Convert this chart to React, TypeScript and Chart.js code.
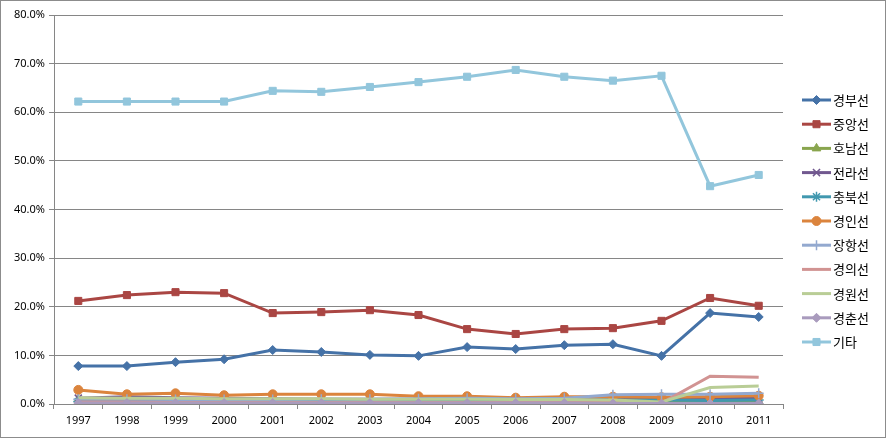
import React, { useEffect, useRef } from "react";
import { Chart, registerables } from "chart.js";
import { drawPoint } from "chart.js/helpers";

Chart.register(...registerables);

const years = ["1997","1998","1999","2000","2001","2002","2003","2004","2005","2006","2007","2008","2009","2010","2011"];
const seriesNames = ["경부선","중앙선","호남선","전라선","충북선","경인선","장항선","경의선","경원선","경춘선","기타"];

const gyeongbu = [7.8, 7.8, 8.6, 9.2, 11.1, 10.7, 10.1, 9.9, 11.7, 11.3, 12.1, 12.3, 9.9, 18.7, 17.9];
const jungang = [21.2, 22.4, 23.0, 22.8, 18.7, 18.9, 19.3, 18.3, 15.4, 14.4, 15.4, 15.6, 17.1, 21.8, 20.2];
const honam = [0.9, 0.8, 0.7, 0.7, 0.6, 0.6, 0.6, 0.6, 0.6, 0.5, 0.6, 0.7, 0.5, 0.6, 0.6];
const jeolla = [1.2, 1.5, 1.3, 1.2, 1.1, 1.0, 1.0, 1.0, 1.0, 0.9, 1.0, 1.1, 1.0, 1.1, 1.2];
const chungbuk = [0.5, 0.5, 0.5, 0.5, 0.5, 0.5, 0.5, 0.5, 0.5, 0.5, 0.6, 0.8, 0.8, 0.7, 0.8];
const gyeongin = [2.9, 2.0, 2.2, 1.8, 2.0, 2.0, 2.0, 1.6, 1.6, 1.3, 1.5, 1.5, 1.4, 1.5, 1.7];
const janghang = [1.0, 1.0, 0.9, 0.9, 0.9, 1.0, 1.0, 1.1, 1.2, 1.1, 1.2, 1.9, 2.0, 2.0, 2.2];
const gyeongui = [0.4, 0.4, 0.3, 0.3, 0.3, 0.3, 0.3, 0.3, 0.3, 0.3, 0.3, 0.3, 0.2, 5.7, 5.5];
const gyeongwon = [1.3, 1.2, 1.2, 1.1, 1.1, 1.1, 1.0, 1.0, 1.0, 0.9, 0.9, 0.8, 0.4, 3.4, 3.7];
const gyeongchun = [0.2, 0.2, 0.2, 0.2, 0.2, 0.2, 0.2, 0.2, 0.2, 0.2, 0.2, 0.1, 0.1, 0.1, 0.1];
const others = [62.2, 62.2, 62.2, 62.2, 64.4, 64.2, 65.2, 66.2, 67.3, 68.7, 67.3, 66.5, 67.5, 44.8, 47.1];

const allValues = [gyeongbu, jungang, honam, jeolla, chungbuk, gyeongin, janghang, gyeongui, gyeongwon, gyeongchun, others];
const yTicks = [0, 10, 20, 30, 40, 50, 60, 70, 80];

const colors = ["#4572A7","#AA4643","#89A54E","#71588F","#4198AF","#DB843D","#93A9CF","#D19392","#B9CD96","#A99BBD","#92C6DC"];
const styles = ["rectRot","rect","triangle","crossRot","star","circle","cross","line","line","rectRot","rect"];
const radii = [4.5, 5, 5, 5, 5, 4.5, 5, 0, 0, 4.5, 5];

const legendPlugin = {
  id: "excelLegend",
  afterDraw(chart: any) {
    const ctx = chart.ctx;
    ctx.save();
    const x0 = 802, x1 = 831, yStart = 100, step = 24.2;
    chart.data.datasets.forEach((ds: any, i: number) => {
      const y = yStart + i * step;
      ctx.strokeStyle = ds.borderColor;
      ctx.lineWidth = 3;
      ctx.beginPath();
      ctx.moveTo(x0, y);
      ctx.lineTo(x1, y);
      ctx.stroke();
      if (ds.pointRadius > 0) {
        ctx.fillStyle = ds.pointBackgroundColor;
        ctx.strokeStyle = ds.pointBorderColor;
        ctx.lineWidth = ds.pointBorderWidth;
        drawPoint(ctx, { pointStyle: ds.pointStyle, radius: ds.pointRadius, borderWidth: ds.pointBorderWidth, rotation: 0 }, (x0 + x1) / 2, y);
      }
      ctx.fillStyle = "#000";
      ctx.font = '13px "Noto Sans CJK KR"';
      ctx.textBaseline = "middle";
      ctx.textAlign = "left";
      ctx.fillText(ds.label, x1 + 2, y);
    });
    ctx.strokeStyle = "#8c8c8c";
    ctx.lineWidth = 1;
    ctx.strokeRect(0.5, 0.5, chart.width - 1, chart.height - 1);
    ctx.restore();
  },
};

export default function App() {
  const ref = useRef<HTMLCanvasElement>(null);
  useEffect(() => {
    const datasets = seriesNames.map((name, i) => ({
      label: name,
      data: allValues[i],
      borderColor: colors[i],
      backgroundColor: colors[i],
      pointBackgroundColor: colors[i],
      pointBorderColor: colors[i],
      pointBorderWidth: styles[i] === "crossRot" || styles[i] === "star" || styles[i] === "cross" ? 1.5 : 1,
      pointStyle: styles[i],
      pointRadius: radii[i],
      borderWidth: 3,
      tension: 0,
      fill: false,
      order: -i,
    }));
    const chart = new Chart(ref.current!, {
      type: "line",
      data: { labels: years, datasets },
      plugins: [legendPlugin],
      options: {
        animation: false,
        responsive: false,
        devicePixelRatio: 1,
        layout: { padding: { top: 15, right: 103, left: 0, bottom: 0 } },
        plugins: { legend: { display: false }, tooltip: { enabled: false } },
        scales: {
          x: {
            offset: true,
            grid: { offset: true, drawOnChartArea: false, drawTicks: true, tickLength: 5, color: "#868686" },
            border: { color: "#868686", width: 1 },
            ticks: { color: "#000", font: { family: "Noto Sans", size: 11 }, padding: 5, maxRotation: 0 },
            afterFit(scale: any) { scale.height = 34; },
          },
          y: {
            min: 0,
            max: 80,
            afterBuildTicks(scale: any) { scale.ticks = yTicks.map((v) => ({ value: v })); },
            grid: { color: "#868686", tickLength: 5, drawTicks: true },
            border: { color: "#868686", width: 1 },
            ticks: {
              color: "#000",
              font: { family: "Noto Sans", size: 11 },
              padding: 4,
              callback: (v: any) => Number(v).toFixed(1) + "%",
            },
            afterFit(scale: any) { scale.width = 54; },
          },
        },
      },
    });
    return () => chart.destroy();
  }, []);
  return (
    <div style={{ position: "fixed", left: 0, top: 0, width: 886, height: 438, background: "#fff" }}>
      <canvas ref={ref} width={886} height={438} style={{ width: 886, height: 438 }} />
    </div>
  );
}
